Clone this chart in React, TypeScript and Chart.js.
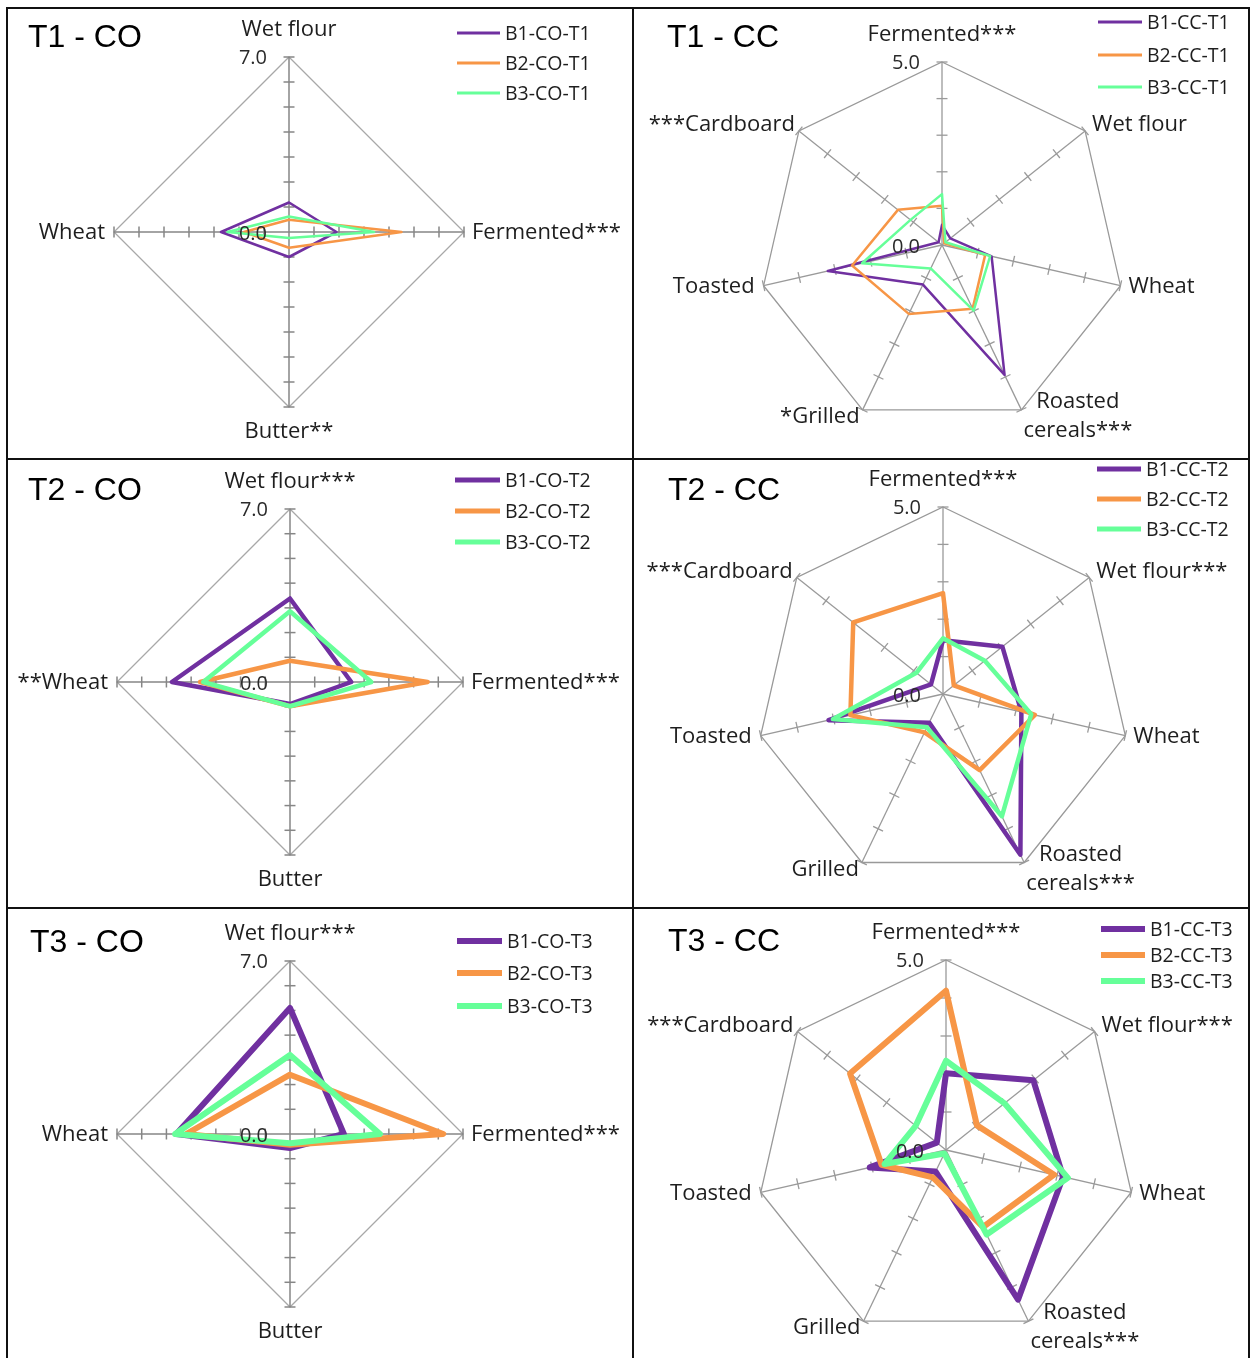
import React, { useEffect, useRef } from "react";
import { Chart, registerables } from "chart.js";
Chart.register(...registerables);

// ---------- data ----------
const coAxesT1 = ["Wet flour", "Fermented***", "Butter**", "Wheat"];
const coAxesT2 = ["Wet flour***", "Fermented***", "Butter", "**Wheat"];
const coAxesT3 = ["Wet flour***", "Fermented***", "Butter", "Wheat"];
const ccAxesT1 = ["Fermented***", "Wet flour", "Wheat", ["Roasted", "cereals***"], "*Grilled", "Toasted", "***Cardboard"];
const ccAxesT2 = ["Fermented***", "Wet flour***", "Wheat", ["Roasted", "cereals***"], "Grilled", "Toasted", "***Cardboard"];
const ccAxesT3 = ["Fermented***", "Wet flour***", "Wheat", ["Roasted", "cereals***"], "Grilled", "Toasted", "***Cardboard"];

const t1CoB1 = [1.18, 1.9, 1.0, 2.72];
const t1CoB2 = [0.49, 4.5, 0.63, 1.8];
const t1CoB3 = [0.62, 3.4, 0.24, 2.46];

const t2CoB1 = [3.38, 2.48, 0.89, 4.78];
const t2CoB2 = [0.86, 5.57, 0.98, 3.64];
const t2CoB3 = [2.86, 3.29, 0.98, 3.51];

const t3CoB1 = [5.1, 2.18, 0.57, 4.6];
const t3CoB2 = [2.4, 6.2, 0.44, 4.2];
const t3CoB3 = [3.2, 3.64, 0.37, 4.65];

const t1CcB1 = [0.55, 0.29, 1.39, 3.94, 1.2, 3.2, 0.12];
const t1CcB2 = [1.07, 0.08, 1.21, 1.93, 2.09, 2.52, 1.54];
const t1CcB3 = [1.39, 0.12, 1.35, 1.99, 0.71, 2.24, 1.1];

const t2CcB1 = [1.44, 2.03, 2.15, 4.77, 0.85, 3.14, 0.41];
const t2CcB2 = [2.7, 0.37, 2.52, 2.26, 1.14, 2.54, 3.07];
const t2CcB3 = [1.49, 1.43, 2.42, 3.63, 0.99, 3.02, 0.91];

const t3CcB1 = [2.02, 2.94, 3.16, 4.37, 0.63, 2.06, 0.31];
const t3CcB2 = [4.19, 1.04, 2.92, 2.25, 0.8, 1.74, 3.23];
const t3CcB3 = [2.35, 1.97, 3.29, 2.47, 0.1, 1.66, 1.02];

const coMax = 7;
const ccMax = 5;

// ---------- styles ----------
const PURPLE = "#7030A0";
const ORANGE = "#F79646";
const GREEN = "#66FF99";
const SERIES_COLORS = [PURPLE, ORANGE, GREEN];

type Panel = {
  title: string;
  axes: any[];
  names: string[];
  series: number[][];
  max: number;
  x0: number; y0: number; w: number; h: number;
  cx: number; cy: number; R: number;
  lw: number; legendLw: number;
  legendX: number; legendLen: number; legendYs: number[];
  titleX: number; titleY: number;
  axisColor: string; axisWidth: number; gridColor: string;
};

const CO_AXIS = "#868686";
const CC_AXIS = "#9a9a9a";

const panels: Panel[] = [
  {
    title: "T1 - CO", axes: coAxesT1, names: ["B1-CO-T1", "B2-CO-T1", "B3-CO-T1"],
    series: [t1CoB1, t1CoB2, t1CoB3], max: coMax,
    x0: 8, y0: 9, w: 625, h: 450, cx: 289, cy: 232, R: 175,
    lw: 2.6, legendLw: 3, legendX: 457, legendLen: 43, legendYs: [33, 63, 93],
    titleX: 28, titleY: 38, axisColor: CO_AXIS, axisWidth: 1.5, gridColor: "#a8a8a8",
  },
  {
    title: "T2 - CO", axes: coAxesT2, names: ["B1-CO-T2", "B2-CO-T2", "B3-CO-T2"],
    series: [t2CoB1, t2CoB2, t2CoB3], max: coMax,
    x0: 8, y0: 460, w: 625, h: 448, cx: 290, cy: 682, R: 173,
    lw: 4.5, legendLw: 5, legendX: 455, legendLen: 45, legendYs: [480, 511, 542],
    titleX: 28, titleY: 491, axisColor: CO_AXIS, axisWidth: 1.5, gridColor: "#a8a8a8",
  },
  {
    title: "T3 - CO", axes: coAxesT3, names: ["B1-CO-T3", "B2-CO-T3", "B3-CO-T3"],
    series: [t3CoB1, t3CoB2, t3CoB3], max: coMax,
    x0: 8, y0: 909, w: 625, h: 449, cx: 290, cy: 1134, R: 173,
    lw: 6, legendLw: 6, legendX: 457, legendLen: 45, legendYs: [941, 973, 1006],
    titleX: 30, titleY: 943, axisColor: CO_AXIS, axisWidth: 1.5, gridColor: "#a8a8a8",
  },
  {
    title: "T1 - CC", axes: ccAxesT1, names: ["B1-CC-T1", "B2-CC-T1", "B3-CC-T1"],
    series: [t1CcB1, t1CcB2, t1CcB3], max: ccMax,
    x0: 634, y0: 9, w: 615, h: 450, cx: 942, cy: 245, R: 183,
    lw: 2.5, legendLw: 3, legendX: 1098, legendLen: 44, legendYs: [22, 55, 87],
    titleX: 667, titleY: 38, axisColor: CC_AXIS, axisWidth: 1.3, gridColor: "#999999",
  },
  {
    title: "T2 - CC", axes: ccAxesT2, names: ["B1-CC-T2", "B2-CC-T2", "B3-CC-T2"],
    series: [t2CcB1, t2CcB2, t2CcB3], max: ccMax,
    x0: 634, y0: 460, w: 615, h: 448, cx: 943, cy: 694, R: 187,
    lw: 4.5, legendLw: 5, legendX: 1097, legendLen: 44, legendYs: [469, 499, 529],
    titleX: 668, titleY: 491, axisColor: CC_AXIS, axisWidth: 1.3, gridColor: "#999999",
  },
  {
    title: "T3 - CC", axes: ccAxesT3, names: ["B1-CC-T3", "B2-CC-T3", "B3-CC-T3"],
    series: [t3CcB1, t3CcB2, t3CcB3], max: ccMax,
    x0: 634, y0: 909, w: 615, h: 449, cx: 946, cy: 1150, R: 190,
    lw: 6, legendLw: 6, legendX: 1101, legendLen: 44, legendYs: [929, 955, 981],
    titleX: 668, titleY: 942, axisColor: CC_AXIS, axisWidth: 1.3, gridColor: "#999999",
  },
];

const LABEL_FONT = "22px 'Open Sans'";
const TICK_FONT = "20px 'Open Sans'";
const LEGEND_FONT = "19.5px 'Open Sans'";
const TITLE_FONT = "32px 'Liberation Sans'";
const TEXT_COLOR = "#1e1e1e";

const decorPlugin = {
  id: "decor",
  beforeDatasetsDraw(chart: any, _args: any, opts: any) {
    const s: any = chart.scales.r;
    const ctx = chart.ctx;
    const n = chart.data.labels.length;
    ctx.save();
    ctx.strokeStyle = opts.axisColor;
    ctx.lineWidth = opts.axisWidth;
    for (let i = 0; i < n; i++) {
      for (let v = 1; v <= opts.max; v++) {
        const p = s.getPointPositionForValue(i, v);
        const dx = p.x - s.xCenter;
        const dy = p.y - s.yCenter;
        const len = Math.hypot(dx, dy) || 1;
        const ux = dx / len, uy = dy / len;
        const L = 5.5;
        ctx.beginPath();
        ctx.moveTo(p.x - uy * L, p.y + ux * L);
        ctx.lineTo(p.x + uy * L, p.y - ux * L);
        ctx.stroke();
      }
    }
    ctx.restore();
  },
  afterDatasetsDraw(chart: any, _args: any, opts: any) {
    const s: any = chart.scales.r;
    const ctx = chart.ctx;
    const labels = chart.data.labels;
    const n = labels.length;
    ctx.save();
    // tick labels
    ctx.font = TICK_FONT;
    ctx.fillStyle = "#2a2a2a";
    ctx.textAlign = "right";
    ctx.textBaseline = "middle";
    const top = s.getPointPositionForValue(0, opts.max);
    ctx.fillText(opts.max.toFixed(1), s.xCenter - 22, top.y + 1);
    ctx.fillText((0).toFixed(1), s.xCenter - 22, s.yCenter + 2);

    // point labels
    ctx.font = LABEL_FONT;
    ctx.fillStyle = TEXT_COLOR;
    for (let i = 0; i < n; i++) {
      const lab = labels[i];
      const lines: string[] = Array.isArray(lab) ? lab : [lab];
      const th = (i * 360) / n;
      const p = s.getPointPositionForValue(i, opts.max);
      if (th < 1) {
        ctx.textAlign = "center";
        ctx.fillText(lines.join(" "), p.x, p.y - 27);
      } else if (Math.abs(th - 180) < 1) {
        ctx.textAlign = "center";
        ctx.fillText(lines.join(" "), p.x, p.y + 25);
      } else if (th < 80) {
        ctx.textAlign = "left";
        ctx.fillText(lines.join(" "), p.x + 7, p.y - 6);
      } else if (th < 120) {
        ctx.textAlign = "left";
        ctx.fillText(lines.join(" "), p.x + 8, p.y + 1);
      } else if (th < 180) {
        let maxW = 0;
        lines.forEach((t) => (maxW = Math.max(maxW, ctx.measureText(t).width)));
        ctx.textAlign = "center";
        lines.forEach((t, k) => ctx.fillText(t, p.x + 2 + maxW / 2, p.y - 8 + k * 29));
      } else if (th < 240) {
        ctx.textAlign = "right";
        ctx.fillText(lines.join(" "), p.x - 3, p.y + 7);
      } else if (th <= 275) {
        ctx.textAlign = "right";
        ctx.fillText(lines.join(" "), p.x - 9, p.y + 1);
      } else {
        ctx.textAlign = "right";
        ctx.fillText(lines.join(" "), p.x - 4, p.y - 6);
      }
    }

    // legend
    const ox = opts.ox, oy = opts.oy;
    chart.data.datasets.forEach((ds: any, k: number) => {
      const y = opts.legendYs[k] - oy;
      const x = opts.legendX - ox;
      ctx.strokeStyle = ds.borderColor;
      ctx.lineWidth = opts.legendLw;
      ctx.lineCap = "butt";
      ctx.beginPath();
      ctx.moveTo(x, y);
      ctx.lineTo(x + opts.legendLen, y);
      ctx.stroke();
      ctx.font = LEGEND_FONT;
      ctx.fillStyle = TEXT_COLOR;
      ctx.textAlign = "left";
      ctx.textBaseline = "middle";
      ctx.fillText(ds.label, x + opts.legendLen + 5, y + 1);
    });

    // title
    ctx.font = TITLE_FONT;
    ctx.fillStyle = "#000";
    ctx.textAlign = "left";
    ctx.textBaseline = "middle";
    ctx.fillText(opts.title, opts.titleX - ox, opts.titleY - oy);
    ctx.restore();
  },
};

function RadarPanel({ p }: { p: Panel }) {
  const ref = useRef<HTMLCanvasElement | null>(null);
  useEffect(() => {
    if (!ref.current) return;
    const padLeft = p.cx - p.R - p.x0;
    const padTop = p.cy - p.R - p.y0;
    const padRight = p.x0 + p.w - (p.cx + p.R);
    const padBottom = p.y0 + p.h - (p.cy + p.R);
    const chart = new Chart(ref.current, {
      type: "radar",
      data: {
        labels: p.axes,
        datasets: p.series.map((d, k) => ({
          label: p.names[k],
          data: d,
          borderColor: SERIES_COLORS[k],
          backgroundColor: "rgba(0,0,0,0)",
          borderWidth: p.lw,
          fill: false,
          pointRadius: 0,
          pointHoverRadius: 0,
          tension: 0,
          borderJoinStyle: "round",
          order: 3 - k,
        })),
      },
      options: {
        responsive: false,
        animation: false,
        events: [],
        layout: { padding: { left: padLeft, top: padTop, right: padRight, bottom: padBottom } },
        scales: {
          r: {
            min: 0,
            max: p.max,
            ticks: { display: false, stepSize: 1 },
            pointLabels: { display: false },
            grid: {
              color: (c: any) => (c.tick && c.tick.value === p.max ? p.gridColor : "rgba(0,0,0,0)"),
              lineWidth: 1.3,
            },
            angleLines: { color: p.axisColor, lineWidth: p.axisWidth },
          },
        },
        plugins: {
          legend: { display: false },
          tooltip: { enabled: false },
          decor: {
            max: p.max,
            axisColor: p.axisColor,
            axisWidth: p.axisWidth,
            ox: p.x0,
            oy: p.y0,
            legendX: p.legendX,
            legendLen: p.legendLen,
            legendYs: p.legendYs,
            legendLw: p.legendLw,
            title: p.title,
            titleX: p.titleX,
            titleY: p.titleY,
          },
        } as any,
      },
      plugins: [decorPlugin as any],
    } as any);
    return () => chart.destroy();
  }, [p]);
  return (
    <canvas
      ref={ref}
      width={p.w}
      height={p.h}
      style={{ position: "absolute", left: p.x0, top: p.y0, width: p.w, height: p.h }}
    />
  );
}

export default function App() {
  const line = (style: React.CSSProperties) => (
    <div style={{ position: "absolute", background: "#111", ...style }} />
  );
  return (
    <div style={{ position: "absolute", left: 0, top: 0, width: 1250, height: 1358, background: "#fff", overflow: "hidden" }}>
      {panels.map((p, i) => (
        <RadarPanel key={i} p={p} />
      ))}
      {line({ left: 6, top: 7, width: 1244, height: 2 })}
      {line({ left: 6, top: 458, width: 1244, height: 2 })}
      {line({ left: 6, top: 907, width: 1244, height: 2 })}
      {line({ left: 6, top: 7, width: 2, height: 1351 })}
      {line({ left: 632, top: 7, width: 2, height: 1351 })}
      {line({ left: 1248, top: 7, width: 2, height: 1351 })}
    </div>
  );
}
